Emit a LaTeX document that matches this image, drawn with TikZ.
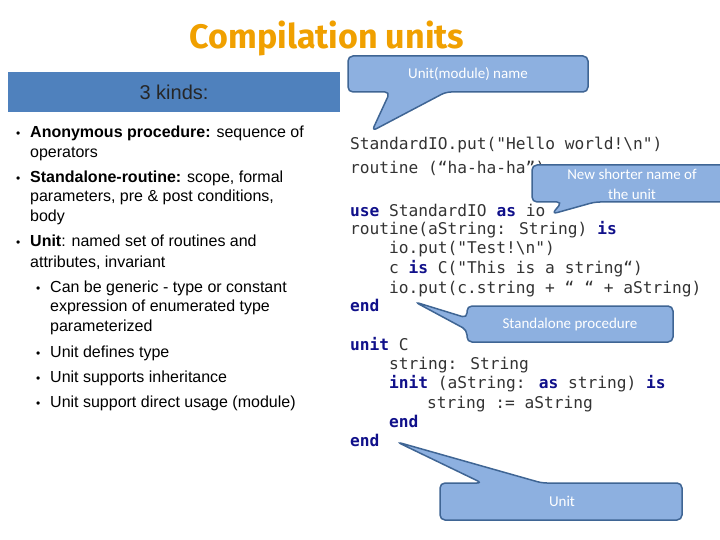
\documentclass[tikz,border=0pt]{standalone}
\usepackage{fontspec}
\setmainfont{Liberation Sans}
\newfontfamily\codefont{DejaVu Sans Mono}
\newfontfamily\callfont{Carlito}
\newfontfamily\titlefont{Fira Sans}
\definecolor{callfill}{HTML}{8DB0E0}
\definecolor{calldraw}{HTML}{3F6594}
\definecolor{kw}{HTML}{10108A}
\definecolor{titlec}{HTML}{F0A000}
\definecolor{barc}{HTML}{4F81BD}
\begin{document}
\begin{tikzpicture}[x=1pt,y=-1pt,
  call/.style={fill=callfill,draw=calldraw,line width=1.5pt,rounded corners=5pt},
  calltxt/.style={text=white,font=\callfont\fontsize{15}{17}\selectfont,align=center},
  code/.style={anchor=base west,inner sep=0pt,font=\codefont\fontsize{16.2}{18}\selectfont,text=black!80},
  bl/.style={anchor=base west,inner sep=0pt,font=\fontsize{16}{18}\selectfont},
  bul/.style={anchor=base west,inner sep=0pt,font=\fontsize{12}{14}\selectfont}]
\useasboundingbox (0,0) rectangle (720,540);
\newcommand\kwd[1]{\textcolor{kw}{\bfseries #1}}
\node[font=\titlefont\bfseries\fontsize{34}{38}\selectfont,text=titlec] (title) at (327,38) {Compilation units};
\node[fill=barc,minimum width=332pt,minimum height=40pt,inner sep=0pt,text=white,font=\fontsize{20}{22}\selectfont] (bar) at (174,92) {\textcolor{black!85}{3 kinds:}};
% bullets
\node[bul] (b1) at (16,138) {•};
\node[bl] (l1) at (30,138) {\textbf{Anonymous procedure:} sequence of};
\node[bl] (l2) at (30,158) {operators};
\node[bul] (b2) at (16,183) {•};
\node[bl] (l3) at (30,183) {\textbf{Standalone-routine:} scope, formal};
\node[bl] (l4) at (30,202) {parameters, pre \& post conditions,};
\node[bl] (l5) at (30,222) {body};
\node[bul] (b3) at (16,247) {•};
\node[bl] (l6) at (30,247) {\textbf{Unit}: named set of routines and};
\node[bl] (l7) at (30,267) {attributes, invariant};
\node[bul] (b4) at (36,292) {•};
\node[bl] (l8) at (50,292) {Can be generic - type or constant};
\node[bl] (l9) at (50,311) {expression of enumerated type};
\node[bl] (l10) at (50,331) {parameterized};
\node[bul] (b5) at (36,357) {•};
\node[bl] (l11) at (50,357) {Unit defines type};
\node[bul] (b6) at (36,382) {•};
\node[bl] (l12) at (50,382) {Unit supports inheritance};
\node[bul] (b7) at (36,407) {•};
\node[bl] (l13) at (50,407) {Unit support direct usage (module)};
% code
\node[code] (c1) at (350,150) {StandardIO.put("Hello world!\textbackslash n")};
\node[code] (c2) at (350,174) {routine (“ha-ha-ha”)};
\node[code] (c3) at (350,216) {\kwd{use} StandardIO \kwd{as} io};
\node[code] (c4) at (350,235) {routine(aString: String) \kwd{is}};
\node[code] (c5) at (389,254) {io.put("Test!\textbackslash n")};
\node[code] (c6) at (389,273) {c \kwd{is} C("This is a string“)};
\node[code] (c7) at (389,293) {io.put(c.string + “ “ + aString)};
\node[code] (c8) at (350,311) {\kwd{end}};
\node[code] (c9) at (350,350) {\kwd{unit} C};
\node[code] (c10) at (389,369) {string: String};
\node[code] (c11) at (389,388) {\kwd{init} (aString: \kwd{as} string) \kwd{is}};
\node[code] (c12) at (427,408) {string := aString};
\node[code] (c13) at (389,427) {\kwd{end}};
\node[code] (c14) at (350,446) {\kwd{end}};
% callouts
\coordinate (p1) at (372,131);
\draw[call] (348,56) -- (588,56) -- (588,92) -- (446,92) -- (p1) -- (390,92) -- (348,92) -- cycle;
\node[calltxt] (t1) at (468,74) {Unit(module) name};
\coordinate (p2) at (552,214);
\draw[call] (532,165) -- (730,165) -- (730,202) -- (595,202) -- (p2) -- (562,202) -- (532,202) -- cycle;
\node[calltxt] (t2) at (632,184) {New shorter name of\\[3pt]the unit};
\coordinate (p3) at (415,302);
\draw[call] (467,306) -- (673,306) -- (673,342) -- (467,342) -- (467,330) -- (p3) -- (467,318) -- cycle;
\node[calltxt] (t3) at (570,324) {Standalone procedure};
\coordinate (p4) at (397,442);
\draw[call] (440,483) -- (482,483) -- (p4) -- (542,483) -- (682,483) -- (682,520) -- (440,520) -- cycle;
\node[calltxt] (t4) at (562,501) {Unit};
\end{tikzpicture}
\end{document}
